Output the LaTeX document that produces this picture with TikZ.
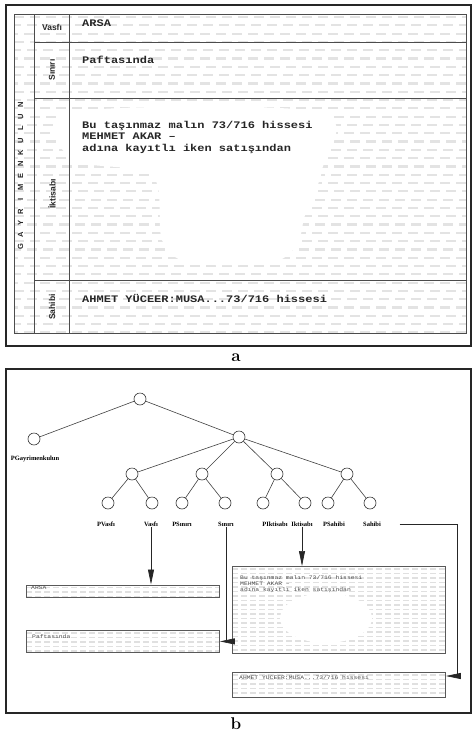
\documentclass[tikz,border=0pt]{standalone}
\usepackage{fontspec}
\usetikzlibrary{arrows.meta}
\newfontfamily\typew[FakeStretch=1.2]{Liberation Mono}
\newfontfamily\lblsans{Liberation Sans}
\newfontfamily\treefont{Liberation Serif}
\begin{document}
\begin{tikzpicture}[x=1pt,y=-1pt,
  frame/.style={draw=black!85,line width=1.2pt},
  gridl/.style={draw=black!70,line width=0.9pt},
  pat/.style={black!11,line width=2.2pt,dash pattern=on 10pt off 6pt},
  tpat/.style={black!12,line width=1.3pt,dash pattern=on 6pt off 3pt},
  mono/.style={font=\typew\bfseries\fontsize{10}{11}\selectfont,inner sep=0pt,anchor=base west,text=black!85},
  tinymono/.style={font=\typew\fontsize{5.3}{6}\selectfont,inner sep=0pt,anchor=base west,text=black!70},
  collbl/.style={font=\lblsans\bfseries\fontsize{8.5}{9}\selectfont,inner sep=0pt,text=black!85},
  gl/.style={font=\lblsans\bfseries\fontsize{7.5}{8}\selectfont,inner sep=0pt,rotate=90,text=black!85},
  tn/.style={circle,draw=black!80,line width=0.6pt,minimum size=12pt,inner sep=0pt},
  tedge/.style={draw=black!75,line width=0.6pt},
  tl/.style={font=\treefont\bfseries\fontsize{6.5}{7}\selectfont,inner sep=0.5pt},
  tbox/.style={draw=black!65,line width=0.8pt,inner sep=0pt,anchor=north west,
    path picture={\foreach \k in {0,...,20}{\draw[tpat] ([yshift={-2.5pt-\k*4.5pt}]path picture bounding box.north west) -- ++(260,0);}}},
  arr/.style={draw=black!85,line width=0.7pt,-{Triangle[length=15pt,width=6pt]}},
  captxt/.style={font=\fontsize{17}{17}\selectfont\bfseries,inner sep=0pt}
]
\useasboundingbox (0,0) rectangle (473,734);
% ---------------- panel a ----------------
\draw[frame] (6,5) rectangle (471,346);
\begin{scope}
  \clip (14,14) rectangle (466,333);
  \foreach \r in {0,...,38}{\draw[pat,dash phase={mod(\r,3)*3pt}] (14,{17+\r*8.3}) -- (466,{17+\r*8.3});}
  \fill[white] plot[smooth cycle] coordinates {(72,112) (320,112) (322,170) (305,215) (297,245) (270,263) (190,263) (162,240) (152,175) (72,160)};
\end{scope}
\draw[gridl] (14,14) rectangle (466,333);
\draw[gridl] (34,14) -- (34,333);
\draw[gridl] (69,14) -- (69,333);
\draw[gridl] (34,42) -- (466,42);
\draw[gridl] (34,98) -- (466,98);
\draw[gridl] (34,280) -- (466,280);
% left labels
\foreach \c [count=\i from 0] in {G,A,Y,R,I,M,E,N,K,U,L,U,N}{
  \node[gl] (g\i) at (20.5,{247-\i*11.83}) {\c};}
\node[collbl] (lVas) at (52,27) {Vasfı};
\node[collbl,rotate=90] (lSin) at (52,70) {Sınırı};
\node[collbl,rotate=90] (lIkt) at (52,194) {İktisabı};
\node[collbl,rotate=90] (lSah) at (52,307) {Sahibi};
% texts
\node[mono] (aArsa) at (82,26.7) {ARSA};
\node[mono] (aPafta) at (82,63.5) {Paftasında};
\node[mono] (aBu) at (82,128) {Bu taşınmaz malın 73/716 hissesi};
\node[mono] (aMeh) at (82,139.5) {MEHMET AKAR –};
\node[mono] (aAdi) at (82,151) {adına kayıtlı iken satışından};
\node[mono] (aAhm) at (82,302.7) {AHMET YÜCEER:MUSA...73/716 hissesi};
\node[captxt] (capA) at (236,357.5) {a};
% ---------------- panel b ----------------
\draw[frame] (6,369) rectangle (471,713);
\node[tn] (root) at (140,399) {};
\node[tn] (pg) at (34,439) {};
\node[tn] (mid) at (239,437) {};
\node[tn] (m1) at (132,474) {};
\node[tn] (m2) at (202,474) {};
\node[tn] (m3) at (277,474) {};
\node[tn] (m4) at (347,474) {};
\node[tn] (k1) at (108,503) {};
\node[tn] (k2) at (152,503) {};
\node[tn] (k3) at (182,503) {};
\node[tn] (k4) at (225,503) {};
\node[tn] (k5) at (263,503) {};
\node[tn] (k6) at (305,503) {};
\node[tn] (k7) at (328,503) {};
\node[tn] (k8) at (370,503) {};
\draw[tedge] (root) -- (pg);
\draw[tedge] (root) -- (mid);
\foreach \m in {m1,m2,m3,m4}{\draw[tedge] (mid) -- (\m);}
\draw[tedge] (m1) -- (k1); \draw[tedge] (m1) -- (k2);
\draw[tedge] (m2) -- (k3); \draw[tedge] (m2) -- (k4);
\draw[tedge] (m3) -- (k5); \draw[tedge] (m3) -- (k6);
\draw[tedge] (m4) -- (k7); \draw[tedge] (m4) -- (k8);
\node[tl] (lPG) at (35,459) {PGayrimenkulun};
\node[tl] (lPV) at (106,524) {PVasfı};
\node[tl] (lV) at (151,524) {Vasfı};
\node[tl] (lPS) at (182,524) {PSınırı};
\node[tl] (lS) at (226,524) {Sınırı};
\node[tl] (lPI) at (275,524) {PIktisabı};
\node[tl] (lI) at (302,524) {Iktisabı};
\node[tl] (lPSa) at (334,524) {PSahibi};
\node[tl] (lSa) at (372,524) {Sahibi};
% thumbnail boxes
\node[tbox,minimum width=193pt,minimum height=12.5pt] (bArsa) at (26,584.5) {};
\node[tbox,minimum width=193pt,minimum height=22pt] (bPafta) at (26,630) {};
\node[tbox,minimum width=213pt,minimum height=87pt] (bIkt) at (232,566) {};
\fill[white] (326,618) ellipse [x radius=46, y radius=25];
\node[tbox,minimum width=213pt,minimum height=25pt] (bSah) at (232,672) {};
\node[tinymono] (tArsa) at (31,589) {ARSA};
\node[tinymono] (tPafta) at (32,638) {Paftasında};
\node[tinymono] (tBu) at (240,579.3) {Bu taşınmaz malın 73/716 hissesi};
\node[tinymono] (tMeh) at (240,585.5) {MEHMET AKAR –};
\node[tinymono] (tAdi) at (240,591.8) {adına kayıtlı iken satışından};
\node[tinymono] (tAhm) at (239,679.5) {AHMET YÜCEER:MUSA...73/716 hissesi};
% connectors
\draw[arr] (lV.south) -- (lV.south |- bArsa.north);
\draw[arr] (lS.south) |- (bPafta.east);
\draw[arr] (lI.south) -- (lI.south |- bIkt.north);
\coordinate (sCorner) at (457,676);
\draw[arr] ([xshift=18pt]lSa.east) -| (sCorner) -- (sCorner -| bSah.east);
\node[captxt] (capB) at (236,724) {b};
\end{tikzpicture}
\end{document}
